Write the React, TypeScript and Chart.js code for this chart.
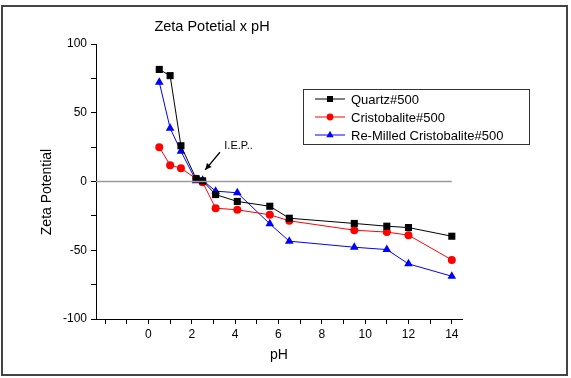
import React, { useEffect, useRef } from "react";
import { Chart, registerables } from "chart.js";

Chart.register(...registerables);

const pH = [0.5, 1.0, 1.5, 2.2, 2.5, 3.1, 4.1, 5.6, 6.5, 9.5, 11, 12, 14];
const quartz = [81.5, 77, 26, 2, 0.5, -9.5, -14.5, -18, -26.7, -30.5, -32.5, -33.5, -39.8];
const cristobalite = [25, 11.9, 9.7, 2, -0.5, -19.4, -20.6, -24.2, -28.6, -35.4, -36.8, -39, -57];
const remilled = [72.2, 38.8, 22, 0.5, 1, -7, -8.2, -30.8, -43.4, -47.8, -49.5, -59.9, -68.9];

const seriesNames = ["Quartz#500", "Cristobalite#500", "Re-Milled Cristobalite#500"];
const seriesColors = ["#000000", "#ff0000", "#0000ff"];
const seriesShapes = ["rect", "circle", "triangle"];
const seriesRadius = [5, 4, 5];

const xMin = -2.42;
const xMax = 14.47;
const yMin = -100;
const yMax = 100;
const zeroLine = [{ x: xMin, y: 0 }, { x: 14, y: 0 }];

// annotation (data coordinates)
const iepLabel = "I.E.P..";
const iepText = { x: 3.5, y: 26 };
const iepArrowFrom = { x: 3.3, y: 21.3 };
const iepArrowTo = { x: 2.62, y: 8.5 };

const FONT = "'Liberation Sans', Arial, sans-serif";

const extrasPlugin = {
  id: "extras",
  afterDraw(chart: any) {
    const ctx = chart.ctx as CanvasRenderingContext2D;
    const ca = chart.chartArea;
    const xs = chart.scales.x;
    const ys = chart.scales.y;
    ctx.save();

    // frame
    ctx.strokeStyle = "#444";
    ctx.lineWidth = 2;
    ctx.strokeRect(2, 6, 565, 369);

    // title
    ctx.fillStyle = "#000";
    ctx.font = `14.5px ${FONT}`;
    ctx.textAlign = "center";
    ctx.textBaseline = "middle";
    ctx.fillText("Zeta Potetial x pH", 212, 27);

    // x title
    ctx.font = `14px ${FONT}`;
    ctx.fillText("pH", (ca.left + ca.right) / 2, 355);

    // y title
    ctx.save();
    ctx.translate(47, 192);
    ctx.rotate(-Math.PI / 2);
    ctx.fillText("Zeta Potential", 0, 0);
    ctx.restore();

    // IEP annotation
    ctx.font = `11px ${FONT}`;
    ctx.textAlign = "left";
    ctx.fillText(iepLabel, xs.getPixelForValue(iepText.x), ys.getPixelForValue(iepText.y));
    const x1 = xs.getPixelForValue(iepArrowFrom.x);
    const y1 = ys.getPixelForValue(iepArrowFrom.y);
    const x2 = xs.getPixelForValue(iepArrowTo.x);
    const y2 = ys.getPixelForValue(iepArrowTo.y);
    ctx.strokeStyle = "#000";
    ctx.lineWidth = 1.3;
    ctx.beginPath();
    ctx.moveTo(x1, y1);
    ctx.lineTo(x2, y2);
    ctx.stroke();
    const ang = Math.atan2(y2 - y1, x2 - x1);
    const hl = 7;
    ctx.beginPath();
    ctx.moveTo(x2, y2);
    ctx.lineTo(x2 - hl * Math.cos(ang - 0.45), y2 - hl * Math.sin(ang - 0.45));
    ctx.lineTo(x2 - hl * Math.cos(ang + 0.45), y2 - hl * Math.sin(ang + 0.45));
    ctx.closePath();
    ctx.fillStyle = "#000";
    ctx.fill();

    // legend
    const bx = ca.left + 207;
    const by = ca.top + 45;
    const bw = 226;
    const bh = 55;
    ctx.fillStyle = "#fff";
    ctx.fillRect(bx, by, bw, bh);
    ctx.strokeStyle = "#333";
    ctx.lineWidth = 1;
    ctx.strokeRect(bx + 0.5, by + 0.5, bw, bh);
    ctx.font = `13px ${FONT}`;
    ctx.textBaseline = "middle";
    for (let i = 0; i < seriesNames.length; i++) {
      const ry = by + 10 + i * 18;
      ctx.strokeStyle = seriesColors[i];
      ctx.lineWidth = 1;
      ctx.beginPath();
      ctx.moveTo(bx + 12, ry);
      ctx.lineTo(bx + 42, ry);
      ctx.stroke();
      ctx.fillStyle = seriesColors[i];
      const r = seriesRadius[i] * 0.85;
      ctx.beginPath();
      if (seriesShapes[i] === "rect") {
        const s = r * Math.SQRT1_2;
        ctx.rect(bx + 27 - s, ry - s, 2 * s, 2 * s);
      } else if (seriesShapes[i] === "circle") {
        ctx.arc(bx + 27, ry, r, 0, Math.PI * 2);
      } else {
        ctx.moveTo(bx + 27, ry - r);
        ctx.lineTo(bx + 27 + r * 0.866, ry + r * 0.5);
        ctx.lineTo(bx + 27 - r * 0.866, ry + r * 0.5);
        ctx.closePath();
      }
      ctx.fill();
      ctx.fillStyle = "#000";
      ctx.textAlign = "left";
      ctx.fillText(seriesNames[i], bx + 48, ry + 1);
    }
    ctx.restore();
  },
};

export default function App() {
  const ref = useRef<HTMLCanvasElement | null>(null);

  useEffect(() => {
    if (!ref.current) return;
    const series = [quartz, cristobalite, remilled].map((vals, i) => ({
      label: seriesNames[i],
      data: pH.map((x, j) => ({ x, y: vals[j] })),
      showLine: true,
      borderColor: seriesColors[i],
      backgroundColor: seriesColors[i],
      borderWidth: 1,
      pointStyle: seriesShapes[i],
      pointRadius: seriesRadius[i],
      pointBorderWidth: 0,
      pointBackgroundColor: seriesColors[i],
    }));
    const tickFont = { family: FONT, size: 12 };
    const chart = new Chart(ref.current, {
      type: "scatter",
      data: {
        datasets: [
          {
            label: "zero",
            data: zeroLine,
            showLine: true,
            borderColor: "#9a9a9a",
            borderWidth: 1.5,
            pointRadius: 0,
          } as any,
          ...series,
        ],
      },
      options: {
        responsive: false,
        animation: false,
        layout: { padding: { left: 0, top: 44, right: 109, bottom: 0 } },
        plugins: { legend: { display: false }, tooltip: { enabled: false }, title: { display: false } },
        scales: {
          x: {
            type: "linear",
            min: xMin,
            max: xMax,
            afterFit: (s: any) => { s.height = 59; },
            border: { display: true, color: "#000", width: 1 },
            grid: { display: true, drawOnChartArea: false, drawTicks: true, tickLength: 5, color: "#000" },
            ticks: {
              stepSize: 1,
              autoSkip: false,
              includeBounds: false,
              maxRotation: 0,
              padding: 3,
              color: "#000",
              font: tickFont,
              callback: (v: any) => (Number(v) >= 0 && Number(v) % 2 === 0 ? String(v) : ""),
            },
          },
          y: {
            type: "linear",
            min: yMin,
            max: yMax,
            afterFit: (s: any) => { s.width = 96; },
            border: { display: true, color: "#000", width: 1 },
            grid: { display: true, drawOnChartArea: false, drawTicks: true, tickLength: 5, color: "#000" },
            ticks: {
              stepSize: 25,
              autoSkip: false,
              padding: 4,
              color: "#000",
              font: tickFont,
              callback: (v: any) => (Number(v) % 50 === 0 ? String(v) : ""),
            },
          },
        },
      } as any,
      plugins: [extrasPlugin],
    });
    return () => chart.destroy();
  }, []);

  return (
    <div style={{ position: "absolute", left: 0, top: 0, width: 571, height: 378, background: "#fff" }}>
      <canvas ref={ref} width={571} height={378} style={{ display: "block" }} />
    </div>
  );
}
